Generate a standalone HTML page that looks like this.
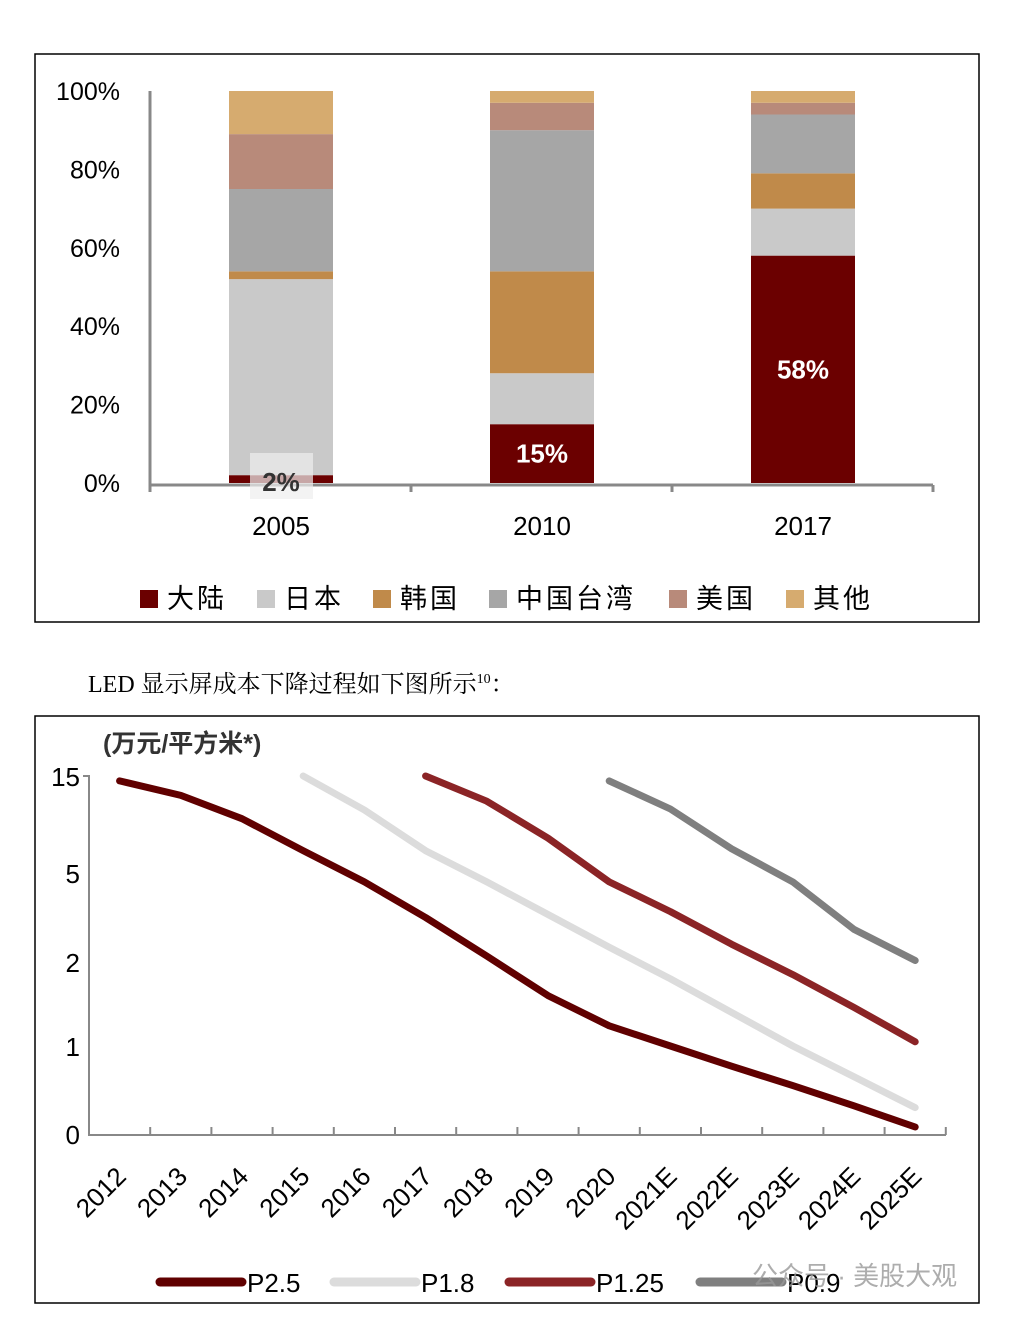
<!DOCTYPE html>
<html><head><meta charset="utf-8">
<style>
body{margin:0;background:#fff;width:1009px;height:1317px;position:relative;overflow:hidden;font-family:"Liberation Sans","Noto Sans CJK SC",sans-serif;}
svg{position:absolute;left:0;top:0}
</style></head>
<body>
<svg id="s" width="1009" height="1317">
<rect x="35" y="54" width="944" height="568" fill="none" stroke="#000" stroke-width="1.5"/>
<rect x="35" y="716" width="944" height="587" fill="none" stroke="#000" stroke-width="1.5"/>
<text x="88" y="692" font-size="24" font-family="'Liberation Serif','Noto Serif CJK SC',serif">LED 显示屏成本下降过程如下图所示<tspan font-size="14" dy="-9">10</tspan><tspan dy="9">：</tspan></text>
<g id="topg"></g>
<g id="botg"></g>
<text x="752" y="1285" font-size="26" fill="#999" opacity="0.8">公众号 · 美股大观</text>
</svg>
<script>
const years=["2005","2010","2017"];
const seriesNames=["大陆","日本","韩国","中国台湾","美国","其他"];
const sDalu=[2,15,58];
const sJapan=[50,13,12];
const sKorea=[2,26,9];
const sTaiwan=[21,36,15];
const sUSA=[14,7,3];
const sOther=[11,3,3];
const pctTicks=[0,20,40,60,80,100];
const barLabels=["2%","15%","58%"];

const lineYears=["2012","2013","2014","2015","2016","2017","2018","2019","2020","2021E","2022E","2023E","2024E","2025E"];
const p25=[14.5,13.0,10.6,7.3,4.7,3.5,2.2,1.6,1.24,1.0,0.77,0.55,0.32,0.08];
const p18=[null,null,null,15,11.5,7.3,4.7,3.6,2.5,1.8,1.4,1.0,0.65,0.3];
const p125=[null,null,null,null,null,15,12.4,8.6,4.7,3.7,2.6,1.85,1.46,1.05];
const p09=[null,null,null,null,null,null,null,null,14.5,11.6,7.5,4.7,3.1,2.05];
const yTickVals=[0,1,2,5,15];

const NS="http://www.w3.org/2000/svg";
function mk(tag,attrs,parent,txt){const e=document.createElementNS(NS,tag);for(const k in attrs)e.setAttribute(k,attrs[k]);if(txt!=null)e.textContent=txt;parent.appendChild(e);return e;}
const colors=["#6b0000","#c9c9c9","#c08a4a","#a6a6a6","#b88a7a","#d6ab6f"];
const topG=document.getElementById('topg');
const yT=v=>483-v*3.92, xT=i=>281+i*261;
mk('line',{x1:150,y1:91,x2:150,y2:486,stroke:'#888','stroke-width':3},topG);
mk('line',{x1:150,y1:485,x2:933,y2:485,stroke:'#888','stroke-width':3},topG);
[150,411,672,933].forEach(x=>mk('line',{x1:x,y1:485,x2:x,y2:492,stroke:'#888','stroke-width':3},topG));
pctTicks.forEach(t=>{const e=mk('text',{x:120,y:yT(t)+9,'font-size':25,'text-anchor':'end'},topG,t+'%');

});
const all=[sDalu,sJapan,sKorea,sTaiwan,sUSA,sOther];
years.forEach((yr,i)=>{let acc=0;all.forEach((s,k)=>{const r=mk('rect',{x:xT(i)-52,y:yT(acc+s[i]),width:104,height:s[i]*3.92,fill:colors[k]},topG);


acc+=s[i];});
const t=mk('text',{x:xT(i),y:535,'font-size':26,'text-anchor':'middle'},topG,yr);


if(i==0){const bg=mk('rect',{x:250,y:453,width:63,height:46,fill:'#eee',opacity:0.7},topG);

}
const ly=i==0?491:yT(sDalu[i]/2)+9;
const l=mk('text',{x:xT(i),y:ly,'font-size':26,'font-weight':'bold','text-anchor':'middle',fill:i==0?'#333':'#fff'},topG,barLabels[i]);

});
const legX=[140,257,373,489,669,786];
seriesNames.forEach((n,k)=>{const r=mk('rect',{x:legX[k],y:590,width:18,height:18,fill:colors[k]},topG);


const t=mk('text',{x:legX[k]+27,y:608,'font-size':27,'letter-spacing':3},topG,n);

});

const yTickPix=[1134,1046,962,873,776];
const botG=document.getElementById('botg');
function yB(v){for(let i=0;i<yTickVals.length-1;i++){if(v<=yTickVals[i+1]){const f=(v-yTickVals[i])/(yTickVals[i+1]-yTickVals[i]);return yTickPix[i]+f*(yTickPix[i+1]-yTickPix[i]);}}return 776;}
const xB=i=>89+30.6+i*61.2;
mk('line',{x1:89,y1:775,x2:89,y2:1136,stroke:'#888','stroke-width':2},botG);
mk('line',{x1:83,y1:776,x2:89,y2:776,stroke:'#888','stroke-width':2},botG);
mk('line',{x1:88,y1:1135,x2:946,y2:1135,stroke:'#888','stroke-width':2},botG);
for(let i=1;i<=14;i++)mk('line',{x1:89+i*61.2,y1:1127,x2:89+i*61.2,y2:1135,stroke:'#888','stroke-width':2},botG);
yTickVals.forEach(v=>{const t=mk('text',{x:80,y:yB(v)+10,'font-size':26,'text-anchor':'end'},botG,v);

});
const u=mk('text',{x:103,y:752,'font-size':25,'font-weight':'bold',fill:'#333'},botG,'(万元/平方米*)');


lineYears.forEach((y,i)=>{const t=mk('text',{x:0,y:0,'font-size':26,'text-anchor':'end',transform:`translate(${xB(i)+8},${1178}) rotate(-45)`},botG,y);

});
const lineSeries=[[p25,'#600000','P2.5'],[p18,'#dcdcdc','P1.8'],[p125,'#8b2426','P1.25'],[p09,'#7f7f7f','P0.9']];
lineSeries.forEach(([arr,c,n])=>{const pts=[];arr.forEach((v,i)=>{if(v!=null)pts.push(xB(i).toFixed(1)+','+yB(v).toFixed(1));});
const p=mk('polyline',{points:pts.join(' '),fill:'none',stroke:c,'stroke-width':7,'stroke-linecap':'round','stroke-linejoin':'round'},botG);

});
const legLX=[160,334,509,700];
lineSeries.forEach(([a,c,n],k)=>{const l=mk('line',{x1:legLX[k],y1:1282,x2:legLX[k]+82,y2:1282,stroke:c,'stroke-width':9,'stroke-linecap':'round'},botG);


const t=mk('text',{x:legLX[k]+87,y:1292,'font-size':26},botG,n);

});
</script>
</body></html>
